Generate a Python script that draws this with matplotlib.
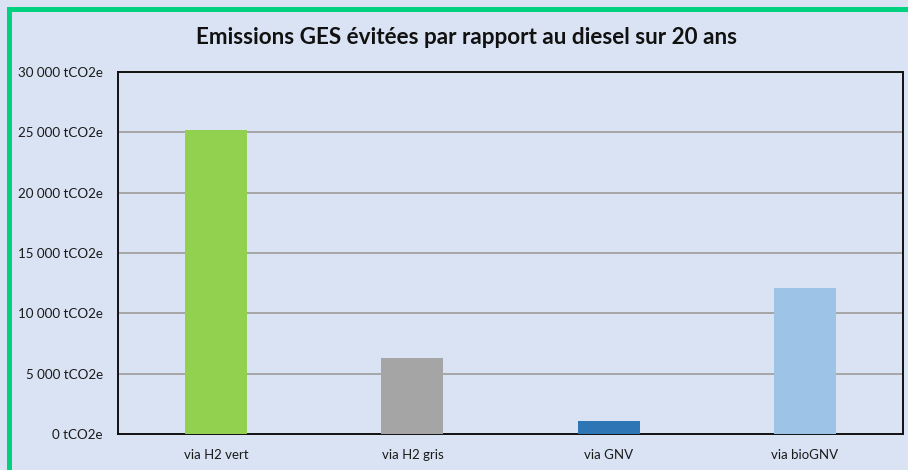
"""Emissions GES evitees - bar chart."""
import matplotlib
matplotlib.use("Agg")
import matplotlib.pyplot as plt
from matplotlib.lines import Line2D
from matplotlib.ticker import FuncFormatter

categories = ["via H2 vert", "via H2 gris", "via GNV", "via bioGNV"]
values = [25200, 6300, 1100, 12100]
colors = ["#92D050", "#A5A5A5", "#2E75B6", "#9DC3E6"]
title = "Emissions GES évitées par rapport au diesel sur 20 ans"

BG = "#DAE3F3"
plt.rcParams["font.family"] = ["Lato", "DejaVu Sans"]

fig = plt.figure(figsize=(9.08, 4.70), dpi=100, facecolor=BG)
ax = fig.add_axes([118 / 908, 36 / 470, 785 / 908, 362 / 470], facecolor=BG)

x = range(len(categories))
ax.bar(x, values, width=0.316, color=colors, zorder=3)

ax.set_xlim(-0.5, len(categories) - 0.5)
ax.set_ylim(0, 30000)
ax.set_yticks(range(0, 30001, 5000))
ax.yaxis.set_major_formatter(FuncFormatter(
    lambda v, p: "{:,.0f} tCO2e".format(v).replace(",", " ")))
ax.set_xticks(list(x))
ax.set_xticklabels(categories)
ax.tick_params(axis="y", length=0, pad=11, labelsize=9.6, labelcolor="#1a1a1a")
ax.tick_params(axis="x", length=0, pad=11, labelsize=9.5, labelcolor="#1a1a1a")

ax.grid(axis="y", color="#A6A6A6", lw=1.4, zorder=1)
for s in ax.spines.values():
    s.set_color("#111111")
    s.set_linewidth(1.4)

fig.text(467 / 908, 1 - 37 / 470, title, ha="center", va="center",
         fontsize=16.2, fontweight="bold", color="#111111")

# green frame round the chart (only left and top visible)
green = "#00D17F"
fig.add_artist(Line2D([8.5 / 908, 8.5 / 908], [-0.1, 1 - 8.5 / 470],
                      color=green, lw=3.6, transform=fig.transFigure,
                      solid_capstyle="projecting"))
fig.add_artist(Line2D([8.5 / 908, 1.1], [1 - 8.5 / 470, 1 - 8.5 / 470],
                      color=green, lw=3.6, transform=fig.transFigure,
                      solid_capstyle="projecting"))

fig.savefig("out.png", dpi=100, facecolor=BG)
